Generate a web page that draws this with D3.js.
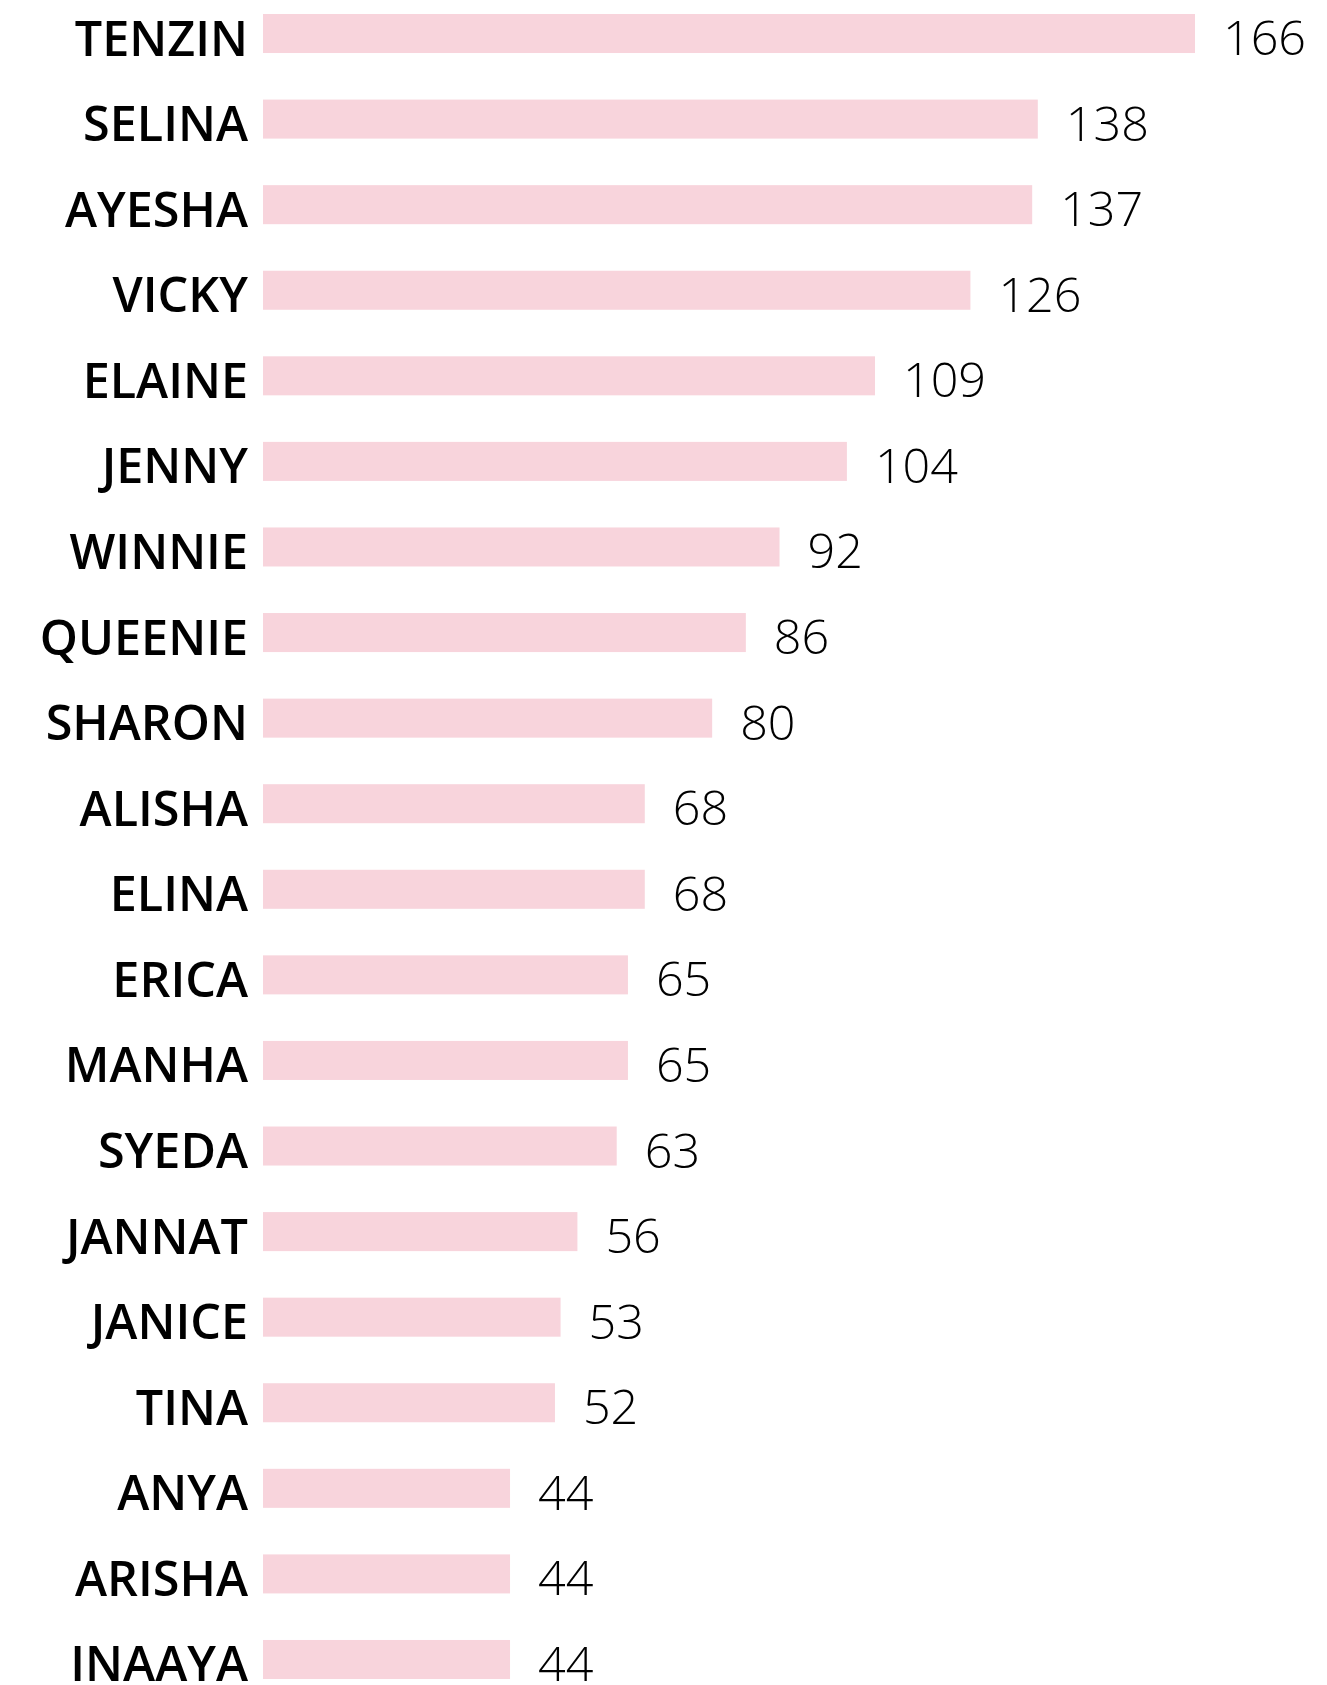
<!DOCTYPE html>
<html>
<head>
<meta charset="utf-8">
<script src="https://cdn.jsdelivr.net/npm/d3@7"></script>
<style>
  html, body { margin: 0; padding: 0; background: #fff; }
  svg { display: block; }
</style>
</head>
<body>
<svg id="chart" width="1327" height="1685"></svg>
<script>
const names = ["TENZIN","SELINA","AYESHA","VICKY","ELAINE","JENNY","WINNIE","QUEENIE","SHARON","ALISHA","ELINA","ERICA","MANHA","SYEDA","JANNAT","JANICE","TINA","ANYA","ARISHA","INAAYA"];
const counts = [166,138,137,126,109,104,92,86,80,68,68,65,65,63,56,53,52,44,44,44];

const data = names.map((n, i) => ({ name: n, value: counts[i] }));

const svg = d3.select("#chart");

const x = d3.scaleLinear()
  .domain([0, d3.max(counts)])
  .range([263, 1195]);

const y = d3.scaleBand()
  .domain(names)
  .range([14, 1679])
  .paddingInner(0.544)
  .paddingOuter(0);

svg.selectAll("rect.bar")
  .data(data)
  .join("rect")
  .attr("class", "bar")
  .attr("x", x(0))
  .attr("y", d => y(d.name))
  .attr("width", d => x(d.value) - x(0))
  .attr("height", y.bandwidth())
  .attr("fill", "#f8d4dc");

svg.selectAll("text.name")
  .data(data)
  .join("text")
  .attr("class", "name")
  .attr("x", 248)
  .attr("y", d => y(d.name) + y.bandwidth() / 2 + 22)
  .attr("text-anchor", "end")
  .attr("font-family", "'Open Sans', sans-serif")
  .attr("font-weight", 600)
  .attr("font-size", 48.5)
  .attr("fill", "#000")
  .text(d => d.name);

svg.selectAll("text.val")
  .data(data)
  .join("text")
  .attr("class", "val")
  .attr("x", d => x(d.value) + 28)
  .attr("y", d => y(d.name) + y.bandwidth() / 2 + 21.5)
  .attr("text-anchor", "start")
  .attr("font-family", "'Open Sans', sans-serif")
  .attr("font-weight", 300)
  .attr("font-size", 48.5)
  .attr("fill", "#000")
  .text(d => d.value);
</script>
</body>
</html>
